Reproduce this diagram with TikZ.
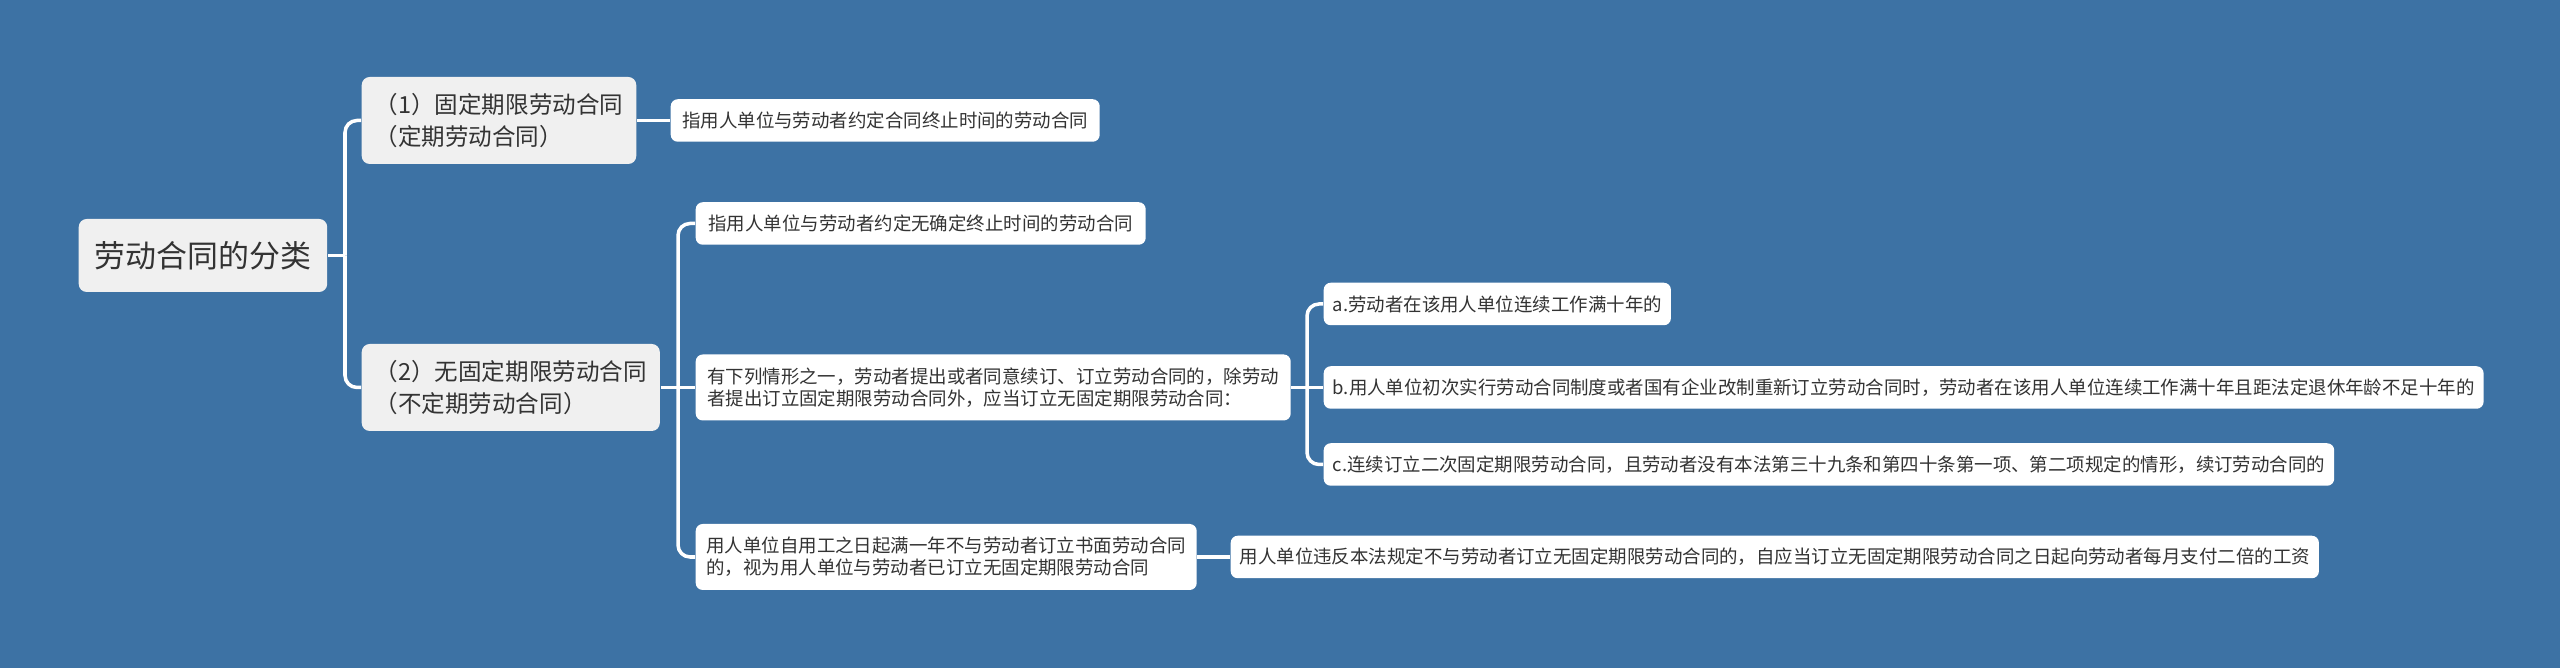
\documentclass[tikz,border=0pt]{standalone}
\usepackage{fontspec}
\setmainfont{Noto Sans CJK SC}
\usepackage{tikz}
\usetikzlibrary{positioning,calc}
\definecolor{fond}{RGB}{61,114,164}
\definecolor{gris}{RGB}{240,240,240}
\definecolor{texte}{RGB}{51,51,51}

\begin{document}
\begin{tikzpicture}[
    racine/.style={rectangle,rounded corners=0.08cm,fill=gris,text=texte,font=\fontsize{8.8}{11}\selectfont,inner xsep=0.16cm,minimum height=0.73cm},
    niveau/.style={rectangle,rounded corners=0.08cm,fill=gris,text=texte,align=left,font=\fontsize{6.7}{9.1}\selectfont,inner xsep=0.13cm,minimum height=0.87cm},
    feuille/.style={rectangle,rounded corners=0.07cm,fill=white,text=texte,align=left,font=\fontsize{5.25}{6.3}\selectfont,inner xsep=0.09cm,minimum height=0.425cm},
    lien/.style={draw=white,line width=1pt,rounded corners=0.12cm}]

% Fond
\fill[fond] (0,0) rectangle (25.6,-6.68);
\useasboundingbox (0,0) rectangle (25.6,-6.68);

% Racine et types
\node[racine,anchor=west] (cls) at (0.78,-2.555) {劳动合同的分类};
\node[niveau,anchor=west] (n1) at (3.61,-1.205) {（1）固定期限劳动合同\\（定期劳动合同）};
\node[niveau,anchor=west] (n2) at (3.61,-3.875) {（2）无固定期限劳动合同\\（不定期劳动合同）};

% Definitions
\node[feuille,anchor=west,minimum width=4.29cm] (d1) at (6.70,-1.205) {指用人单位与劳动者约定合同终止时间的劳动合同};
\node[feuille,anchor=west,minimum width=4.50cm] (d2) at (6.95,-2.235) {指用人单位与劳动者约定无确定终止时间的劳动合同};
\node[feuille,anchor=west,minimum height=0.66cm,minimum width=5.95cm] (sit) at (6.95,-3.875) {有下列情形之一，劳动者提出或者同意续订、订立劳动合同的，除劳动\\者提出订立固定期限劳动合同外，应当订立无固定期限劳动合同：};
\node[feuille,anchor=west,minimum height=0.66cm,minimum width=5.01cm] (ecrit) at (6.95,-5.57) {用人单位自用工之日起满一年不与劳动者订立书面劳动合同\\的，视为用人单位与劳动者已订立无固定期限劳动合同};

% Situations a, b, c
\foreach \n/\y/\t in {a/-3.04/{a.劳动者在该用人单位连续工作满十年的},
    b/-3.875/{b.用人单位初次实行劳动合同制度或者国有企业改制重新订立劳动合同时，劳动者在该用人单位连续工作满十年且距法定退休年龄不足十年的},
    c/-4.645/{c.连续订立二次固定期限劳动合同，且劳动者没有本法第三十九条和第四十条第一项、第二项规定的情形，续订劳动合同的}} {
    \node[feuille,anchor=west] (s\n) at (13.23,\y) {\t};
}
\node[feuille,anchor=west] (pay) at (12.30,-5.57) {用人单位违反本法规定不与劳动者订立无固定期限劳动合同的，自应当订立无固定期限劳动合同之日起向劳动者每月支付二倍的工资};

% Liens
\coordinate (j0) at (3.45,-2.555);
\coordinate (j1) at (6.78,-3.875);
\coordinate (j2) at (13.07,-3.875);
\draw[lien] (cls.east) -- (j0);
\draw[lien] (j0) |- (n1.west);
\draw[lien] (j0) |- (n2.west);
\draw[lien] (n1.east) -- (d1.west);
\draw[lien] (n2.east) -- (sit.west);
\draw[lien] (j1) |- (d2.west);
\draw[lien] (j1) |- (ecrit.west);
\draw[lien] (sit.east) -- (sb.west);
\draw[lien] (j2) |- (sa.west);
\draw[lien] (j2) |- (sc.west);
\draw[lien] (ecrit.east) -- (pay.west);

\end{tikzpicture}
\end{document}
